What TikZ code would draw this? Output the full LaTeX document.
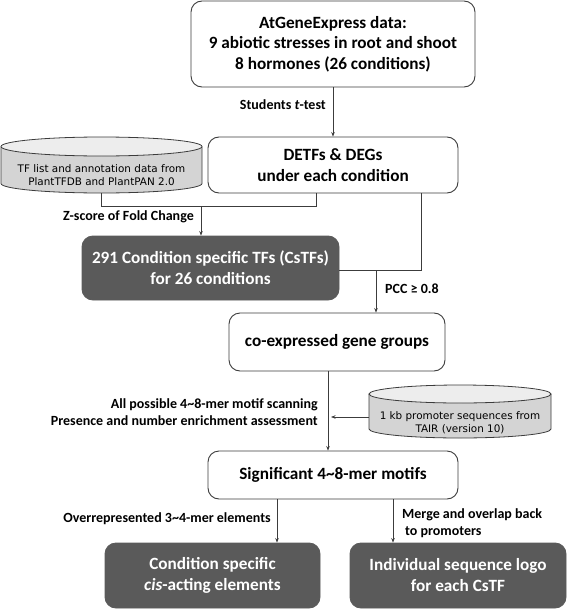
\documentclass[tikz,border=0pt]{standalone}
\usepackage{fontspec}
\setmainfont{Carlito}
\newfontfamily\cylfont{DejaVu Sans}
\usetikzlibrary{arrows.meta}
\definecolor{edge}{HTML}{3C3C3C}
\definecolor{dark}{HTML}{5A5A5A}
\definecolor{cylbody}{HTML}{D4D4D4}
\definecolor{cyltop}{HTML}{EDEDED}
\begin{document}
\begin{tikzpicture}[x=1pt,y=-1pt,
  box/.style={draw=edge, line width=0.9pt, rounded corners=11pt, fill=white, align=center, inner sep=0pt, font=\bfseries\fontsize{17.2}{21}\selectfont},
  darkbox/.style={box, fill=dark, draw=dark, text=white},
  lab/.style={font=\bfseries\fontsize{14}{17}\selectfont, inner sep=0pt},
  link/.style={draw=edge, line width=0.7pt},
  arr/.style={link, -{Stealth[length=4.5pt,width=3.5pt]}},
  cyltext/.style={font=\cylfont\fontsize{10.4}{12.5}\selectfont, align=center, inner sep=0pt},
  cylarea/.style={draw=none, fill=none, inner sep=0pt},
  cylline/.style={draw=edge, line width=0.8pt},
]
\useasboundingbox (0,0) rectangle (567,610);

% boxes
\node[box, minimum width=284pt, minimum height=86pt, font=\bfseries\fontsize{17.2}{20.5}\selectfont] (b1) at (333,44)
  {AtGeneExpress data:\\9 abiotic stresses in root and shoot\\8 hormones (26 conditions)};
\node[box, minimum width=250pt, minimum height=56pt] (b2) at (333,165)
  {DETFs \& DEGs\\under each condition};
\node[darkbox, minimum width=257pt, minimum height=64pt] (b3) at (210.5,268)
  {291 Condition specific TFs (CsTFs)\\for 26 conditions};
\node[box, minimum width=216pt, minimum height=58pt] (b4) at (337,342)
  {co-expressed gene groups};
\node[box, minimum width=250pt, minimum height=48pt] (b5) at (333,475)
  {Significant 4\textasciitilde8-mer motifs};
\node[darkbox, minimum width=215pt, minimum height=65pt] (b6) at (212.5,575.5)
  {Condition specific\\\textit{cis}-acting elements};
\node[darkbox, minimum width=216pt, minimum height=65pt] (b7) at (458,575.5)
  {Individual sequence logo\\for each CsTF};

% cylinder 1
\fill[cylbody] (1,146.5) -- (1,183.5) arc[start angle=180, end angle=360, x radius=100.5pt, y radius=9.5pt] -- (202,146.5) -- cycle;
\draw[cylline] (1,146.5) -- (1,183.5) arc[start angle=180, end angle=360, x radius=100.5pt, y radius=9.5pt] -- (202,146.5);
\draw[cylline, fill=cyltop] (101.5,146.5) ellipse[x radius=100.5pt, y radius=9.5pt];
\node[cylarea, minimum width=201pt, minimum height=56pt] (tfdb) at (101.5,165) {};
\node[cyltext] (tfdbtext) at (101.5,175) {TF list and annotation data from\\PlantTFDB and PlantPAN 2.0};

% cylinder 2
\fill[cylbody] (369,394) -- (369,429) arc[start angle=180, end angle=360, x radius=91pt, y radius=9pt] -- (551,394) -- cycle;
\draw[cylline] (369,394) -- (369,429) arc[start angle=180, end angle=360, x radius=91pt, y radius=9pt] -- (551,394);
\draw[cylline, fill=cyltop] (460,394) ellipse[x radius=91pt, y radius=9pt];
\node[cylarea, minimum width=182pt, minimum height=53pt] (tair) at (460,411.5) {};
\node[cyltext] (tairtext) at (460,422.5) {1 kb promoter sequences from\\TAIR (version 10)};

% labels
\node[lab, anchor=east] (l1) at (326,105) {Students \textit{t}-test};
\node[lab, anchor=east] (l2) at (194,217) {Z-score of Fold Change};
\node[lab, anchor=west] (l3) at (385,289) {PCC ≥ 0.8};
\node[lab, anchor=east, align=right] (l4) at (318,412.5)
  {All possible 4\textasciitilde8-mer motif scanning\\Presence and number enrichment assessment};
\node[lab, anchor=east] (l5) at (271,519) {Overrepresented 3\textasciitilde4-mer elements};
\node[lab, anchor=west, align=left] (l6) at (402,523.5)
  {Merge and overlap back\\\hspace{3pt}to promoters};

% connectors
\draw[arr] (b1.south) -- (b2.north);
\coordinate (j1) at (101.5,206);
\coordinate (j2) at (316,206);
\coordinate (m1) at (201,206);
\draw[link] (tfdb.south) -- (j1) -- (j2) -- (j2 |- b2.south);
\draw[arr] (m1) -- (m1 |- b3.north);
\coordinate (j3) at (421,270);
\coordinate (m2) at (376,270);
\draw[link] (j3 |- b2.south) -- (j3) -- (b3.east |- j3);
\draw[arr] (m2) -- (m2 |- b4.north);
\coordinate (c4) at (328,371);
\draw[arr] (c4) -- (c4 |- b5.north);
\coordinate (m3) at (331,417);
\draw[arr] (tair.west |- m3) -- (m3);
\coordinate (c5a) at (277,499);
\coordinate (c5b) at (393,499);
\draw[arr] (c5a) -- (c5a |- b6.north);
\draw[arr] (c5b) -- (c5b |- b7.north);
\end{tikzpicture}
\end{document}
